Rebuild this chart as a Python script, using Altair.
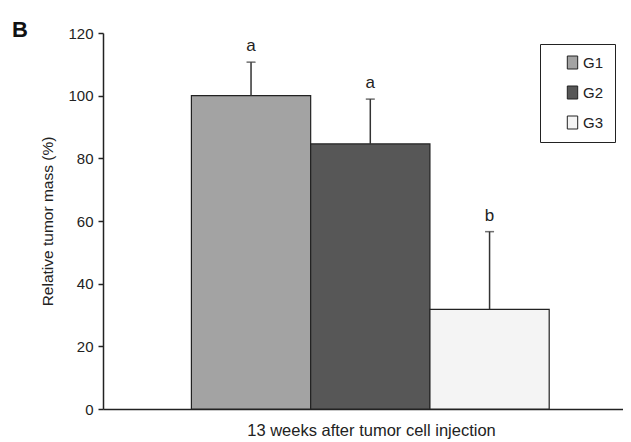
import altair as alt
import pandas as pd

groups = ["G1", "G2", "G3"]
means = [100.0, 84.6, 31.8]
errors = [10.7, 14.3, 24.8]
letters = ["a", "a", "b"]
colors = ["#a3a3a3", "#575757", "#f4f4f4"]

df = pd.DataFrame({
    "group": groups,
    "mean": means,
    "top": [m + e for m, e in zip(means, errors)],
    "letter": letters,
})

FONT = "Liberation Sans"
ytitle = "Relative tumor mass (%)"

# plot area: x 103..623, bars 191..549 (step ~119.3)
xenc = alt.X(
    "group:N",
    sort=groups,
    scale=alt.Scale(paddingInner=0, paddingOuter=0.68, align=0.545),
    axis=alt.Axis(
        title="13 weeks after tumor cell injection",
        labels=False,
        ticks=False,
        domainColor="#222",
        domainWidth=1.5,
        titlePadding=13,
        titleFontSize=16.5,
        titleX=268,
        titleAlign="center",
    ),
)

yscale = alt.Scale(domain=[0, 120])
yaxis = alt.Axis(
    values=[0, 20, 40, 60, 80, 100, 120],
    grid=False,
    tickSize=5,
    tickColor="#222",
    tickWidth=1.5,
    domainColor="#222",
    domainWidth=1.5,
    labelPadding=5,
    labelFontSize=15,
    titlePadding=12,
    titleFontSize=15.5,
)

base = alt.Chart(df).encode(x=xenc)

bars = base.mark_bar(stroke="#222", strokeWidth=1.2).encode(
    y=alt.Y("mean:Q", scale=yscale, axis=yaxis, title=ytitle),
    fill=alt.Fill(
        "group:N",
        scale=alt.Scale(domain=groups, range=colors),
        legend=alt.Legend(
            title=None,
            orient="none",
            legendX=437,
            legendY=11,
            strokeColor="#222",
            fillColor="white",
            padding=11,
            symbolType="M-0.8,-1H0.8V1H-0.8Z",
            symbolSize=169,
            symbolStrokeColor="#222",
            symbolStrokeWidth=1,
            symbolOffset=14,
            labelOffset=3,
            labelFontSize=15,
            labelFont=FONT,
            labelColor="#222",
            rowPadding=13,
        ),
    ),
)

rules = base.mark_rule(color="#333", strokeWidth=1.5).encode(
    y=alt.Y("mean:Q", scale=yscale, title=ytitle), y2="top:Q"
)
caps = base.mark_tick(color="#333", thickness=1.5, size=9).encode(
    y=alt.Y("top:Q", scale=yscale, title=ytitle)
)
labels = base.mark_text(dy=-7, baseline="bottom", fontSize=17, font=FONT, color="#222").encode(
    y=alt.Y("top:Q", scale=yscale, title=ytitle), text="letter:N"
)

panel = alt.Chart(pd.DataFrame({"t": ["B"]})).mark_text(
    fontWeight="bold", fontSize=22, font=FONT, align="left", baseline="alphabetic", color="#111"
).encode(x=alt.value(-91), y=alt.value(4), text="t:N")

chart = (
    alt.layer(bars, rules, caps, labels, panel)
    .properties(
        width=520,
        height=376,
        autosize=alt.AutoSizeParams(type="none"),
        padding={"left": 95, "top": 25, "right": 0, "bottom": 33},
    )
    .configure_view(stroke=None)
    .configure_axis(
        labelFont=FONT,
        titleFont=FONT,
        labelColor="#222",
        titleColor="#222",
        titleFontWeight="normal",
    )
)

chart.save("out.html", embed_options={"renderer": "svg", "actions": False})
